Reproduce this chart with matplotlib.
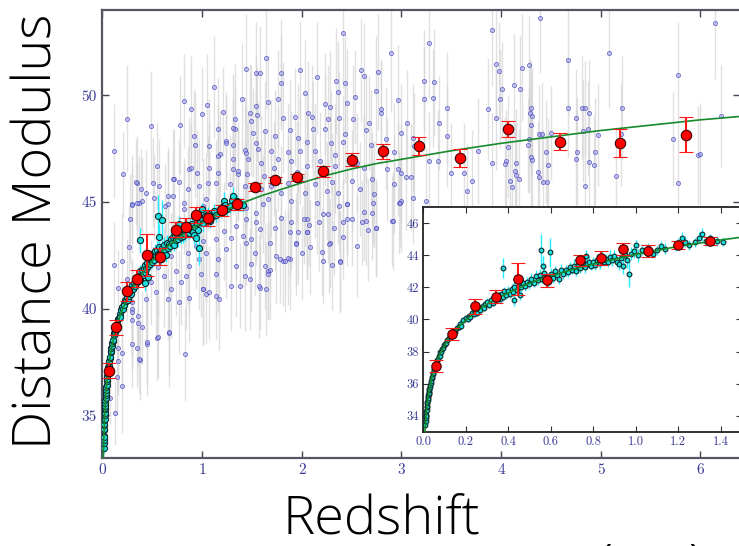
import matplotlib
matplotlib.use("Agg")
import matplotlib.pyplot as plt
import numpy as np

# model curve (z, distance modulus)
curve_z = [0.004, 0.006, 0.008, 0.01, 0.015, 0.02, 0.025, 0.03, 0.04, 0.05, 0.06, 0.07,
           0.08, 0.1, 0.12, 0.15, 0.18, 0.2, 0.25, 0.3, 0.35, 0.4, 0.45, 0.5, 0.6, 0.7,
           0.8, 0.9, 1.0, 1.1, 1.2, 1.3, 1.4, 1.6, 1.8, 2.0, 2.25, 2.5, 2.75, 3.0, 3.5,
           4.0, 4.5, 5.0, 5.5, 6.0, 6.5]
curve_mu = [31.2, 32.1, 32.7, 33.2, 34.1, 34.75, 35.25, 35.65, 36.3, 36.8, 37.2, 37.55,
            37.85, 38.35, 38.8, 39.3, 39.7, 39.95, 40.5, 40.95, 41.3, 41.65, 41.95, 42.25,
            42.7, 43.1, 43.45, 43.75, 44.05, 44.3, 44.55, 44.75, 44.95, 45.3, 45.6, 45.9,
            46.25, 46.55, 46.8, 47.0, 47.4, 47.75, 48.05, 48.35, 48.6, 48.85, 49.05]

# binned averages (red)
red_z = [0.063, 0.137, 0.245, 0.345, 0.445, 0.582, 0.74, 0.837, 0.94, 1.06, 1.2, 1.35,
         1.53, 1.73, 1.95, 2.21, 2.50, 2.82, 3.18, 3.59, 4.07, 4.59, 5.19, 5.86]
red_mu = [37.09, 39.12, 40.81, 41.41, 42.51, 42.43, 43.69, 43.82, 44.38, 44.24, 44.61, 44.89,
          45.71, 46.02, 46.16, 46.44, 46.99, 47.38, 47.64, 47.06, 48.41, 47.83, 47.78, 48.16]
red_err = [0.36, 0.37, 0.45, 0.4, 1.0, 0.4, 0.35, 0.45, 0.37, 0.38, 0.25, 0.26,
           0.2, 0.15, 0.16, 0.27, 0.3, 0.35, 0.42, 0.43, 0.37, 0.4, 0.66, 0.84]

# supernovae (cyan): (z, mu, err)
sn_lowz = [(0.011, 33.45, 0.2), (0.012, 33.7, 0.2), (0.013, 33.85, 0.18), (0.014, 34.05, 0.2),
           (0.015, 34.0, 0.2), (0.016, 34.3, 0.18), (0.017, 34.35, 0.2), (0.018, 34.55, 0.18),
           (0.019, 34.6, 0.2), (0.02, 34.8, 0.17), (0.021, 34.85, 0.2), (0.022, 35.0, 0.15),
           (0.023, 35.15, 0.18), (0.024, 35.1, 0.2), (0.025, 35.3, 0.15), (0.026, 35.35, 0.17),
           (0.027, 35.5, 0.15), (0.028, 35.45, 0.2), (0.029, 35.6, 0.15), (0.03, 35.7, 0.15),
           (0.032, 35.8, 0.15), (0.034, 35.95, 0.15), (0.036, 36.05, 0.15), (0.038, 36.2, 0.15),
           (0.04, 36.35, 0.14), (0.042, 36.4, 0.15), (0.045, 36.6, 0.15), (0.048, 36.7, 0.15),
           (0.05, 36.85, 0.14), (0.053, 36.95, 0.15), (0.056, 37.1, 0.15), (0.06, 37.25, 0.14),
           (0.063, 37.3, 0.15), (0.067, 37.5, 0.15), (0.07, 37.55, 0.16), (0.074, 37.7, 0.15),
           (0.078, 37.75, 0.16), (0.082, 37.95, 0.15), (0.086, 38.0, 0.16), (0.09, 38.15, 0.15),
           (0.095, 38.25, 0.15)]
sn_midz = [(0.1, 38.4, 0.15), (0.105, 38.5, 0.15), (0.11, 38.55, 0.15), (0.115, 38.75, 0.15),
           (0.12, 38.85, 0.18), (0.125, 38.9, 0.15), (0.13, 39.05, 0.18), (0.14, 39.15, 0.15),
           (0.145, 39.3, 0.2), (0.15, 39.25, 0.15), (0.16, 39.5, 0.2), (0.17, 39.55, 0.15),
           (0.175, 39.75, 0.2), (0.18, 39.6, 0.15), (0.19, 39.95, 0.2), (0.2, 40.1, 0.2),
           (0.21, 40.0, 0.15), (0.215, 40.2, 0.2), (0.22, 40.15, 0.2), (0.23, 40.4, 0.2),
           (0.24, 40.35, 0.2), (0.25, 40.55, 0.2), (0.255, 40.4, 0.2), (0.26, 40.75, 0.25),
           (0.27, 40.6, 0.2), (0.28, 40.85, 0.25), (0.285, 40.7, 0.2), (0.29, 40.95, 0.2),
           (0.3, 41.1, 0.25), (0.31, 40.9, 0.2), (0.32, 41.2, 0.25), (0.33, 41.05, 0.2),
           (0.34, 41.35, 0.25), (0.35, 41.25, 0.2), (0.355, 41.5, 0.3), (0.36, 41.3, 0.25),
           (0.37, 41.6, 0.3), (0.375, 41.4, 0.25), (0.376, 43.2, 0.6), (0.38, 41.75, 0.3),
           (0.39, 41.55, 0.25), (0.40, 41.8, 0.3), (0.41, 41.6, 0.25), (0.42, 41.9, 0.3),
           (0.425, 41.7, 0.25), (0.427, 41.22, 0.4), (0.43, 42.05, 0.3), (0.44, 41.85, 0.3),
           (0.45, 42.15, 0.35), (0.455, 41.5, 0.3), (0.46, 42.0, 0.3), (0.47, 42.3, 0.35),
           (0.48, 42.1, 0.3), (0.49, 42.35, 0.3), (0.5, 42.2, 0.3), (0.51, 42.55, 0.35),
           (0.52, 42.3, 0.3), (0.53, 42.7, 0.35), (0.54, 42.45, 0.3), (0.55, 42.75, 0.4),
           (0.553, 44.34, 1.0), (0.56, 42.55, 0.3), (0.565, 43.35, 0.6), (0.57, 42.9, 0.35),
           (0.58, 42.6, 0.35), (0.59, 42.35, 0.3), (0.595, 44.17, 0.9), (0.6, 42.85, 0.35),
           (0.61, 42.6, 0.3), (0.62, 43.0, 0.35), (0.63, 42.75, 0.35), (0.64, 42.5, 0.3),
           (0.65, 43.1, 0.35), (0.66, 42.85, 0.3)]
sn_highz = [(0.67, 43.05, 0.35), (0.68, 42.95, 0.3), (0.69, 43.25, 0.35), (0.7, 43.1, 0.3),
            (0.71, 43.35, 0.4), (0.72, 43.0, 0.3), (0.73, 43.4, 0.35), (0.74, 43.2, 0.3),
            (0.75, 43.5, 0.35), (0.76, 43.25, 0.35), (0.765, 43.95, 0.4), (0.77, 43.45, 0.3),
            (0.78, 43.6, 0.35), (0.79, 43.35, 0.3), (0.8, 43.55, 0.35), (0.81, 43.4, 0.3),
            (0.82, 43.7, 0.4), (0.83, 43.5, 0.35), (0.84, 43.85, 0.4), (0.85, 43.6, 0.3),
            (0.86, 43.75, 0.35), (0.87, 43.55, 0.3), (0.88, 43.9, 0.4), (0.89, 43.7, 0.35),
            (0.9, 43.95, 0.4), (0.91, 43.6, 0.35), (0.92, 43.45, 0.4), (0.93, 43.85, 0.45),
            (0.94, 43.3, 0.5), (0.95, 44.0, 0.4), (0.96, 43.7, 0.5), (0.97, 42.85, 0.8),
            (0.98, 44.1, 0.4), (0.99, 44.25, 0.4), (1.0, 44.65, 0.3), (1.01, 44.0, 0.4),
            (1.03, 44.35, 0.35), (1.05, 44.2, 0.3), (1.06, 44.45, 0.3), (1.08, 44.1, 0.3),
            (1.1, 44.3, 0.3), (1.12, 44.6, 0.3), (1.14, 44.4, 0.35), (1.19, 44.55, 0.3),
            (1.2, 44.75, 0.3), (1.22, 45.05, 0.4), (1.23, 44.85, 0.35), (1.25, 44.65, 0.3),
            (1.28, 44.8, 0.3), (1.3, 45.1, 0.35), (1.31, 45.3, 0.4), (1.33, 44.9, 0.3),
            (1.35, 45.05, 0.3), (1.38, 44.9, 0.3), (1.41, 44.85, 0.3)]

# scattered high-z objects (blue): (z, mu, err)
obj_low = [(0.08, 35.79, 1.2), (0.13, 35.09, 1.5), (0.15, 36.78, 1.8), (0.16, 37.56, 1.6),
           (0.16, 38.14, 2.0), (0.20, 37.92, 1.7), (0.20, 36.38, 2.2), (0.30, 38.34, 2.0),
           (0.35, 38.14, 1.8), (0.45, 38.34, 2.4), (0.55, 38.62, 2.0), (0.67, 38.85, 2.5),
           (0.83, 37.87, 2.2), (0.38, 37.6, 1.9), (0.36, 39.32, 2.1), (0.40, 39.12, 1.7),
           (0.30, 39.48, 2.3), (0.45, 38.42, 2.0), (0.37, 37.63, 1.6), (0.30, 39.98, 2.2),
           (0.56, 38.65, 1.9), (0.77, 40.29, 2.4), (1.01, 40.91, 2.6), (1.14, 40.6, 2.0),
           (1.04, 40.68, 2.3), (0.67, 38.89, 2.0), (1.17, 40.44, 2.4), (0.87, 40.52, 2.1)]
obj_mid = [(0.12, 42.05, 2.0), (0.16, 40.95, 1.8), (0.20, 42.24, 2.2), (0.25, 41.38, 1.9),
           (0.30, 39.82, 2.0), (0.36, 39.66, 1.7), (0.30, 40.29, 2.1), (0.44, 40.44, 2.3),
           (0.49, 41.23, 2.0), (0.54, 40.76, 2.2), (0.62, 41.54, 2.4), (0.66, 40.44, 1.9),
           (0.69, 40.91, 2.3), (0.74, 41.77, 2.1), (0.84, 41.54, 2.5), (0.79, 41.23, 2.0),
           (0.87, 42.0, 2.2), (0.97, 42.32, 2.4), (0.99, 41.62, 2.0), (1.01, 40.91, 2.6),
           (1.07, 40.76, 2.2), (1.04, 42.63, 2.3), (1.14, 41.62, 2.0), (1.16, 42.32, 2.5),
           (1.29, 41.07, 2.1), (1.34, 42.0, 2.4), (1.38, 41.07, 2.0), (1.43, 41.54, 2.6),
           (1.49, 42.08, 2.2), (1.53, 42.63, 2.0), (1.24, 42.79, 2.3), (1.29, 43.33, 2.1),
           (1.41, 43.41, 2.4), (1.49, 43.26, 2.0), (1.34, 43.88, 2.5), (1.44, 44.19, 2.2),
           (1.54, 44.04, 2.0), (1.22, 43.64, 2.3), (1.14, 43.26, 2.1), (1.01, 43.18, 2.2),
           (0.94, 42.94, 2.0), (0.86, 42.63, 2.4), (0.64, 42.94, 2.1), (0.69, 42.47, 2.0),
           (0.56, 41.93, 2.3), (0.27, 42.87, 2.0), (0.37, 44.97, 2.2), (0.66, 44.89, 2.5),
           (0.82, 44.66, 2.1), (1.17, 44.5, 2.4), (1.44, 44.74, 2.0), (1.54, 44.5, 2.2),
           (0.30, 44.89, 2.3), (0.40, 45.05, 2.0)]
obj_upper = [(1.12, 50.39, 2.4), (0.82, 49.73, 2.2), (0.49, 48.56, 2.6), (0.78, 48.61, 2.3),
             (0.89, 49.34, 2.5), (1.0, 49.11, 2.2), (1.05, 49.56, 2.4), (1.21, 49.22, 2.1),
             (1.40, 49.84, 2.6), (0.55, 46.69, 2.0), (0.35, 45.91, 2.2), (0.39, 45.6, 1.9),
             (0.505, 45.91, 2.1), (0.30, 44.88, 1.8), (0.72, 46.1, 2.3), (0.77, 45.94, 2.0),
             (0.93, 47.67, 2.5), (1.07, 47.63, 2.2), (1.16, 48.41, 2.4), (1.33, 48.88, 2.6),
             (1.33, 48.41, 2.0), (1.24, 47.86, 2.3), (1.31, 47.66, 2.1), (1.18, 47.27, 2.0),
             (1.07, 46.57, 2.2), (0.87, 46.53, 2.4), (0.95, 46.38, 2.0), (1.16, 46.38, 2.3),
             (1.31, 46.53, 2.1), (1.43, 47.42, 2.5), (1.46, 47.0, 2.2), (1.54, 47.78, 2.4),
             (1.49, 48.8, 2.6), (1.54, 49.5, 2.3), (1.51, 48.25, 2.1), (0.86, 45.6, 2.0),
             (0.97, 45.75, 2.2), (1.04, 45.13, 2.1), (0.66, 45.28, 2.3), (0.52, 45.2, 2.0),
             (1.36, 46.3, 2.2), (1.45, 46.3, 2.4), (1.14, 45.91, 2.0), (1.28, 45.83, 2.3),
             (0.92, 48.09, 2.2), (0.34, 45.94, 2.0), (0.35, 44.97, 1.9), (0.28, 44.19, 2.1),
             (0.44, 45.44, 2.0), (0.57, 45.75, 2.2), (0.63, 44.81, 2.0), (0.71, 46.07, 2.3),
             (0.89, 46.61, 2.1), (1.06, 45.91, 2.2), (0.71, 45.28, 2.0), (0.82, 44.97, 2.1),
             (1.01, 44.81, 2.2), (1.16, 47.16, 2.4), (1.24, 47.78, 2.2), (1.31, 47.0, 2.0),
             (1.36, 46.45, 2.3), (1.43, 45.75, 2.1), (1.44, 47.31, 2.2), (1.31, 48.49, 2.5),
             (1.48, 49.19, 2.3), (1.44, 51.22, 2.6), (1.54, 51.06, 2.4), (0.12, 47.4, 2.2),
             (0.21, 46.3, 2.0), (0.25, 48.9, 2.5)]
obj_center = [(2.41, 52.94, 2.6), (1.64, 51.77, 2.4), (2.90, 52.0, 2.8), (1.58, 51.06, 2.2),
              (1.79, 51.06, 2.5), (1.98, 51.19, 2.3), (2.15, 50.84, 2.6), (2.60, 51.17, 2.4),
              (2.77, 51.09, 2.7), (1.79, 50.59, 2.2), (2.34, 50.67, 2.5), (2.43, 50.59, 2.3),
              (2.75, 50.2, 2.6), (2.53, 49.92, 2.2), (2.36, 50.16, 2.4), (2.03, 50.09, 2.5),
              (1.76, 49.84, 2.3), (2.97, 49.78, 2.6), (1.66, 49.69, 2.2), (2.23, 49.58, 2.4),
              (2.45, 49.66, 2.5), (2.80, 49.38, 2.3), (1.55, 49.06, 2.2), (1.81, 48.94, 2.6),
              (2.10, 49.0, 2.4), (2.37, 48.94, 2.2), (2.51, 48.91, 2.5), (1.93, 49.0, 2.3),
              (2.06, 49.19, 2.4), (2.28, 49.47, 2.6), (2.68, 48.72, 2.2), (3.06, 48.69, 2.5),
              (1.63, 48.33, 2.3), (1.88, 48.38, 2.4), (2.11, 48.41, 2.2), (2.23, 48.41, 2.6),
              (2.43, 48.17, 2.3), (2.65, 48.38, 2.5), (2.85, 47.97, 2.4), (1.73, 48.07, 2.2),
              (1.96, 48.02, 2.5), (2.05, 47.81, 2.3), (2.29, 47.75, 2.4), (2.41, 47.81, 2.2),
              (2.70, 47.66, 2.6), (2.93, 47.34, 2.3), (3.13, 47.63, 2.5), (1.56, 47.47, 2.2),
              (1.69, 47.39, 2.4), (1.86, 47.34, 2.3), (1.98, 47.39, 2.5), (2.13, 47.39, 2.2),
              (2.33, 47.19, 2.4), (2.55, 46.85, 2.3), (2.63, 46.61, 2.5), (1.59, 46.85, 2.2),
              (1.76, 47.0, 2.4), (1.89, 46.92, 2.3), (2.05, 46.69, 2.5), (2.33, 46.69, 2.2),
              (2.86, 46.53, 2.4), (3.0, 46.38, 2.3), (3.10, 46.15, 2.5), (2.71, 46.1, 2.2),
              (2.50, 45.99, 2.4), (2.30, 45.94, 2.3), (2.13, 45.83, 2.5), (1.86, 45.91, 2.2),
              (1.69, 45.75, 2.4), (1.59, 45.6, 2.3), (1.79, 45.44, 2.2), (2.03, 45.44, 2.5),
              (2.25, 45.52, 2.3), (2.36, 45.44, 2.4), (2.58, 45.6, 2.2), (2.73, 45.36, 2.5),
              (2.93, 45.83, 2.3), (3.0, 45.05, 2.4), (2.45, 44.89, 2.2), (1.89, 45.05, 2.5),
              (1.66, 45.13, 2.3), (2.15, 44.97, 2.4), (2.63, 50.9, 2.5), (3.0, 48.25, 2.3),
              (2.80, 49.19, 2.4), (2.97, 46.53, 2.2), (3.05, 46.17, 2.5), (1.62, 46.2, 2.2),
              (1.95, 46.4, 2.4), (2.18, 46.9, 2.3), (1.72, 46.6, 2.2), (2.26, 48.9, 2.5)]
obj_right = [(1.74, 42.47, 2.2), (1.58, 40.99, 2.0), (1.66, 41.77, 2.3), (1.81, 42.24, 2.1),
             (1.88, 42.32, 2.4), (2.05, 43.57, 2.2), (2.21, 42.24, 2.0), (2.38, 42.24, 2.3),
             (2.28, 43.1, 2.1), (2.55, 42.94, 2.4), (2.08, 42.87, 2.2), (1.94, 43.1, 2.0),
             (1.68, 43.1, 2.3), (1.88, 43.57, 2.1), (2.21, 44.43, 2.4), (2.45, 44.19, 2.2),
             (2.61, 44.04, 2.0), (2.75, 43.8, 2.3), (2.91, 44.11, 2.1), (2.98, 44.97, 2.4),
             (2.71, 44.5, 2.2), (1.79, 44.27, 2.0), (1.61, 44.89, 2.3), (2.05, 44.19, 2.1),
             (1.48, 41.38, 2.4), (1.64, 40.91, 2.2), (1.44, 43.1, 2.0), (1.58, 43.72, 2.3),
             (1.78, 42.35, 2.1), (1.83, 42.24, 2.4), (1.86, 42.37, 2.2), (1.63, 42.0, 2.0),
             (1.68, 41.8, 2.3), (1.66, 41.62, 2.1), (1.57, 41.04, 2.4), (2.0, 42.6, 2.2),
             (2.2, 42.66, 2.0), (2.27, 43.05, 2.3), (2.30, 42.04, 2.1), (2.38, 42.19, 2.4),
             (2.32, 43.76, 2.2), (2.41, 43.38, 2.0), (2.26, 44.43, 2.3), (2.37, 44.82, 2.1),
             (2.45, 44.89, 2.4), (2.50, 44.19, 2.2), (2.41, 44.08, 2.0), (2.63, 44.53, 2.3),
             (2.65, 44.11, 2.1), (2.67, 43.69, 2.4), (2.75, 43.8, 2.2), (2.72, 44.94, 2.0),
             (2.92, 44.11, 2.3), (2.99, 44.97, 2.1), (1.94, 43.02, 2.4), (2.05, 43.6, 2.2),
             (2.07, 43.93, 2.0), (2.17, 44.07, 2.3), (2.02, 44.19, 2.1), (1.96, 43.57, 2.4),
             (1.89, 44.07, 2.2), (1.73, 43.8, 2.0)]
obj_far = [(3.28, 52.47, 2.6), (3.23, 50.67, 2.4), (3.33, 50.62, 2.5), (3.32, 49.89, 2.3),
           (3.46, 49.42, 2.6), (3.23, 49.81, 2.4), (3.38, 48.72, 2.2), (3.12, 48.02, 2.5),
           (3.28, 46.92, 2.3), (3.37, 46.92, 2.4), (3.12, 45.21, 2.2), (3.25, 45.05, 2.5),
           (3.50, 46.38, 2.3), (3.71, 45.99, 2.4), (3.66, 45.52, 2.2), (3.77, 47.39, 2.5),
           (3.63, 46.38, 2.3), (3.46, 48.09, 2.4), (3.91, 53.04, 2.6), (3.95, 51.45, 2.5),
           (3.98, 51.14, 2.3), (3.87, 49.34, 2.4), (4.39, 53.64, 2.6), (4.21, 51.3, 2.5),
           (4.28, 51.41, 2.3), (4.13, 50.47, 2.4), (4.01, 50.31, 2.2), (4.19, 50.3, 2.5),
           (3.99, 49.81, 2.3), (3.95, 48.92, 2.4), (4.30, 49.39, 2.2), (4.29, 49.19, 2.5),
           (4.31, 49.03, 2.3), (4.30, 48.61, 2.4), (4.67, 51.65, 2.6), (4.67, 49.42, 2.3),
           (4.81, 49.42, 2.4), (4.84, 49.42, 2.2), (4.88, 49.16, 2.5), (4.75, 48.95, 2.3),
           (5.08, 52.0, 2.6), (5.22, 49.42, 2.4), (5.78, 50.94, 2.5), (6.15, 53.37, 2.6),
           (6.21, 49.03, 2.4), (3.91, 46.85, 2.3), (4.05, 46.92, 2.4), (4.04, 46.77, 2.2),
           (4.15, 46.85, 2.5), (4.09, 45.99, 2.3), (4.11, 45.72, 2.4), (4.14, 46.45, 2.2),
           (4.15, 46.27, 2.5), (4.18, 46.1, 2.3), (4.07, 47.58, 2.4), (4.27, 47.67, 2.2),
           (4.28, 47.94, 2.5), (4.38, 48.19, 2.3), (4.41, 48.19, 2.4), (4.50, 48.25, 2.2),
           (4.30, 47.13, 2.5), (4.31, 46.96, 2.3), (4.37, 46.41, 2.4), (4.38, 46.19, 2.2),
           (4.42, 45.94, 2.5), (4.46, 45.94, 2.3), (4.45, 47.36, 2.4), (4.47, 46.74, 2.2),
           (4.76, 47.36, 2.5), (4.75, 47.0, 2.3), (4.82, 48.33, 2.4), (4.87, 48.41, 2.2),
           (4.94, 47.36, 2.5), (4.93, 46.72, 2.3), (4.97, 48.14, 2.4), (4.88, 46.88, 2.2),
           (4.84, 45.75, 2.5), (5.15, 46.22, 2.3), (5.21, 48.17, 2.4), (5.73, 47.94, 2.2),
           (5.78, 45.91, 2.5), (5.98, 47.2, 2.3), (6.0, 47.24, 2.4)]

sn = np.array(sn_lowz + sn_midz + sn_highz)
obj = np.array(obj_low + obj_mid + obj_upper + obj_center + obj_right + obj_far)

TICK_COLOR = "#3c3c96"
fig = plt.figure(figsize=(7.39, 5.46), dpi=100)
ax = fig.add_axes([0.1387, 0.1612, 0.8627, 0.8205])


def draw(a, small=False):
    ms_c = 3.4 if small else 4.4
    ms_r = 6.8 if small else 7.5
    if not small:
        a.errorbar(obj[:, 0], obj[:, 1], yerr=obj[:, 2], fmt="none", ecolor="#d4d4d4",
                   elinewidth=1.0, alpha=0.7, zorder=1)
        a.plot(obj[:, 0], obj[:, 1], "o", ms=3.0, mfc=(0.6, 0.6, 0.9, 0.55),
               mec=(0.25, 0.25, 0.75, 0.7), mew=0.6, zorder=2)
    a.errorbar(sn[:, 0], sn[:, 1], yerr=sn[:, 2], fmt="o", ms=ms_c, mfc="#19e0e0",
               mec="#0b2a2a", mew=0.8, ecolor="#22eeff", elinewidth=1.0, zorder=3)
    a.plot(curve_z, curve_mu, color="#178a2e", lw=1.2, zorder=4)
    a.errorbar(red_z, red_mu, yerr=red_err, fmt="o", ms=ms_r, mfc="#ff0000",
               mec="#3a0000", mew=0.8, ecolor="#ff1a1a", elinewidth=1.5,
               capsize=5, capthick=1.2, zorder=5)


draw(ax)
ax.set_xlim(0, 6.4)
ax.set_ylim(33, 54)
ax.set_xticks(range(0, 7))
ax.set_yticks([35, 40, 45, 50])
ax.tick_params(direction="in", length=5, width=1, color="#444455", top=True, right=True,
               labelsize=11, labelcolor=TICK_COLOR, pad=4)
for sp in ax.spines.values():
    sp.set_color("#555566")
    sp.set_linewidth(1.6)

ins = fig.add_axes([0.5724, 0.2088, 0.4317, 0.4121])
ins.set_facecolor("white")
draw(ins, small=True)
ins.set_xlim(0, 1.5)
ins.set_ylim(33, 47)
ins.set_xticks(np.arange(0, 1.41, 0.2))
ins.set_yticks(range(34, 47, 2))
ins.tick_params(direction="in", length=4, width=0.8, color="#333333", top=True, right=True,
                labelsize=9, labelcolor=TICK_COLOR, pad=3)
for sp in ins.spines.values():
    sp.set_color("#222222")
    sp.set_linewidth(1.3)

ins.set_xticklabels(["0.0", "0.2", "0.4", "0.6", "0.8", "1.0", "1.2", "1.4"])
for a in (ax, ins):
    for lab in a.get_xticklabels() + a.get_yticklabels():
        lab.set_fontfamily("cmr10")

label_font = dict(family="Open Sans", weight="light", fontsize=39, color="black")
fig.text(38 / 739, 0.576, "Distance Modulus", rotation=90, ha="center", va="center",
         **label_font)
fig.text(381 / 739, 0.022, "Redshift", ha="center", va="baseline", **label_font)
# tops of the next line's brackets, cut by the lower edge as in the source image
fig.text(598 / 739, -0.065, "(", ha="left", va="baseline", **label_font)
fig.text(688 / 739, -0.065, ")", ha="left", va="baseline", **label_font)

fig.savefig("out.png", dpi=100)
